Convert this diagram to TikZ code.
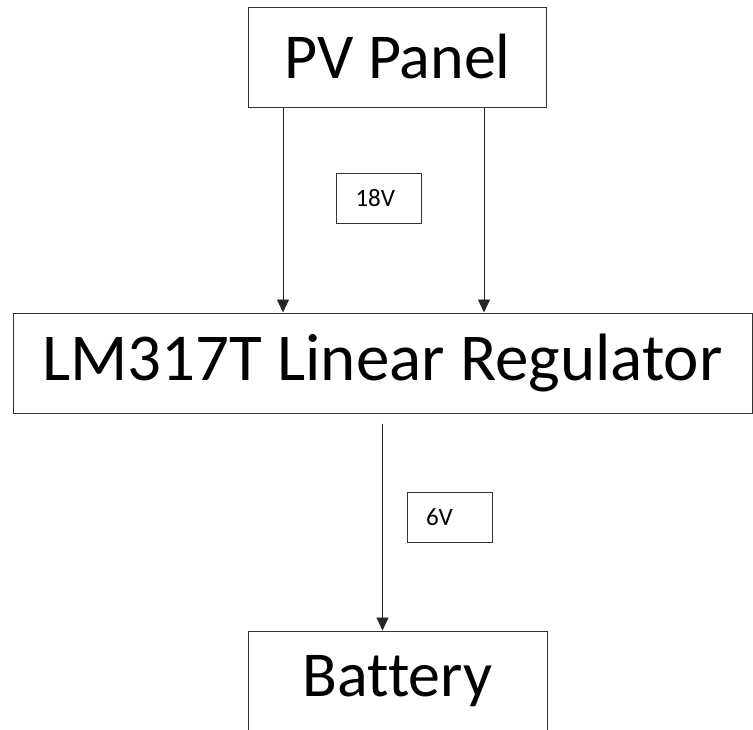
\documentclass[tikz,border=0pt]{standalone}
\usepackage{fontspec}
\setmainfont{Carlito}[Ligatures=NoCommon]
\usepackage{tikz}
\usetikzlibrary{positioning, arrows.meta, calc}

\begin{document}
\begin{tikzpicture}[x=1pt, y=-1pt,
  block/.style={draw=black!80, line width=1pt, inner sep=0pt, minimum height=100pt},
  vbox/.style={draw=black!80, line width=0.8pt, inner xsep=19pt, inner ysep=0pt, text width=47pt, align=left, minimum height=50pt, font=\fontsize{25}{28}\selectfont},
  flow/.style={-{Triangle[width=12pt, length=13pt]}, line width=0.9pt, black!85}]
\useasboundingbox (0,0) rectangle (753,729);
\node[block, minimum width=298pt, font=\fontsize{64}{70}\selectfont] (pv) at (397.5,57) {PV Panel};
\node[block, minimum width=739pt, font=\fontsize{67}{74}\selectfont] (reg) at (382.5,363) {LM317T Linear Regulator};
\node[block, minimum width=299pt, font=\fontsize{64}{70}\selectfont] (bat) at (397.5,681) {Battery};
\node[vbox] (v18) at (379,198) {18V};
\node[vbox] (v6) at (449.5,517.5) {6V};
\draw[flow] ([xshift=35pt]pv.south west) -- ([xshift=35pt]pv.south west |- reg.north);
\draw[flow] ([xshift=-63pt]pv.south east) -- ([xshift=-63pt]pv.south east |- reg.north);
\draw[flow] ([yshift=-10pt]reg.south) -- (reg.south |- bat.north);
\end{tikzpicture}
\end{document}
